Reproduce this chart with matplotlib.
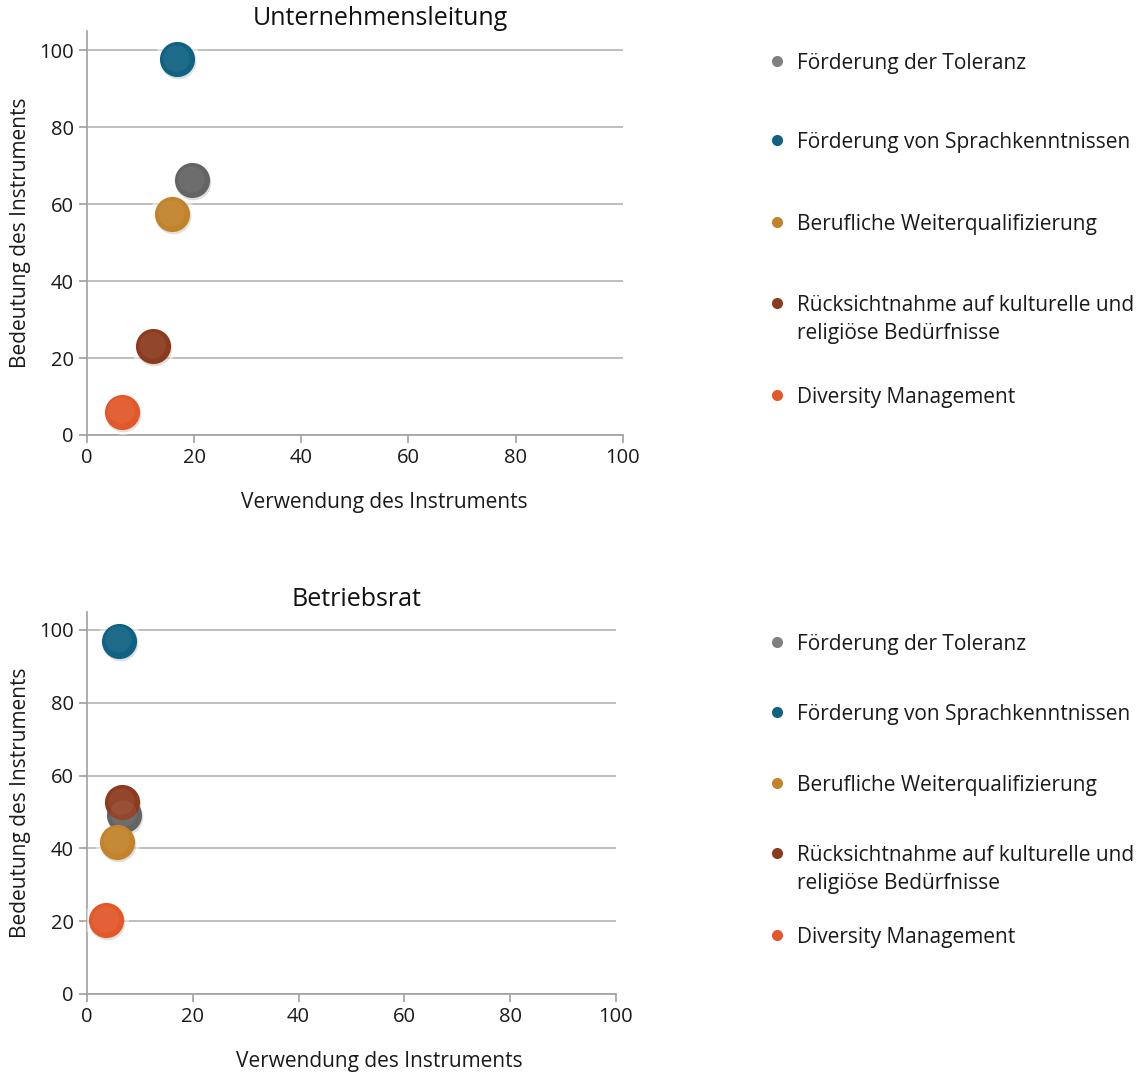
import numpy as np
import matplotlib.pyplot as plt
from matplotlib.lines import Line2D

plt.rcParams['font.family'] = ['Open Sans', 'DejaVu Sans']

# instruments in legend order
instruments = ['Förderung der Toleranz',
               'Förderung von Sprachkenntnissen',
               'Berufliche Weiterqualifizierung',
               'Rücksichtnahme auf kulturelle und\nreligiöse Bedürfnisse',
               'Diversity Management']
colors = ['#646464', '#0f6282', '#c2832b', '#8c3b1f', '#e2582a']
legend_colors = ['#808080', '#0f6282', '#c2832b', '#8c3b1f', '#e2582a']

# Unternehmensleitung: usage (x) vs importance (y)
ul_use = [19.6, 16.8, 15.9, 12.3, 6.5]
ul_imp = [66.2, 97.7, 57.4, 23.1, 6.0]

# Betriebsrat
br_use = [7.0, 6.0, 5.7, 6.6, 3.6]
br_imp = [49.2, 97.0, 41.8, 52.7, 20.3]

# drawing order inside each panel (back to front)
ul_order = [0, 1, 2, 3, 4]
br_order = [0, 3, 1, 2, 4]

W, H = 1140, 1074
# legend rows (pixel y of the first text line)
ul_legend_rows = [61, 140, 222, 303, 395]
br_legend_rows = [642, 712, 783, 853, 935]


def scatter_panel(ax, xs, ys, order, title, title_x, xlabel_x):
    ax.set_xlim(0, 100)
    ax.set_ylim(0, 105)
    ax.set_xticks(np.arange(0, 101, 20))
    ax.set_yticks(np.arange(0, 101, 20))
    ax.yaxis.grid(True, color='#b4b4b4', linewidth=1.2)
    ax.set_axisbelow(True)
    for s in ['top', 'right']:
        ax.spines[s].set_visible(False)
    for s in ['left', 'bottom']:
        ax.spines[s].set_color('#a0a0a0')
        ax.spines[s].set_linewidth(1.2)
    ax.tick_params(axis='both', colors='#a0a0a0', labelcolor='#1a1a1a',
                   labelsize=14.5, length=6, width=1.2)

    # white halo, then soft shadow, then the marker itself
    ax.scatter(xs, ys, s=1050, color='white', alpha=0.5, linewidths=0, zorder=3)
    for i in order:
        ax.scatter(xs[i] + 0.15, ys[i] - 0.5, s=660, color='#000000', alpha=0.12,
                   linewidths=0, zorder=4)
        ax.scatter(xs[i], ys[i], s=640, color=colors[i], linewidths=0, zorder=5)
        ax.scatter(xs[i] - 0.15, ys[i] + 0.4, s=360, color='white', alpha=0.06,
                   linewidths=0, zorder=6)

    ax.set_title(title, fontsize=18, color='#111111', pad=1, x=title_x)
    ax.set_xlabel('Verwendung des Instruments', fontsize=15, color='#1a1a1a',
                  labelpad=17, x=xlabel_x)
    ax.set_ylabel('Bedeutung des Instruments', fontsize=15, color='#1a1a1a', labelpad=6)


def add_legend(fig, rows):
    for label, c, y in zip(instruments, legend_colors, rows):
        yf = 1 - y / H
        fig.add_artist(Line2D([777 / W], [yf], transform=fig.transFigure,
                              linestyle='none', marker='o', markersize=8,
                              markerfacecolor=c, markeredgewidth=0))
        fig.text(797 / W, yf + 8 / H, label, fontsize=15, color='#1a1a1a',
                 ha='left', va='top', linespacing=1.45)


fig = plt.figure(figsize=(11.4, 10.74), dpi=100)
ax1 = fig.add_axes([0.0763, 0.595, 0.470, 0.376])
ax2 = fig.add_axes([0.0763, 0.0745, 0.464, 0.356])

scatter_panel(ax1, ul_use, ul_imp, ul_order, 'Unternehmensleitung', 0.547, 0.554)
scatter_panel(ax2, br_use, br_imp, br_order, 'Betriebsrat', 0.51, 0.552)

add_legend(fig, ul_legend_rows)
add_legend(fig, br_legend_rows)

fig.savefig('out.png', dpi=100)
